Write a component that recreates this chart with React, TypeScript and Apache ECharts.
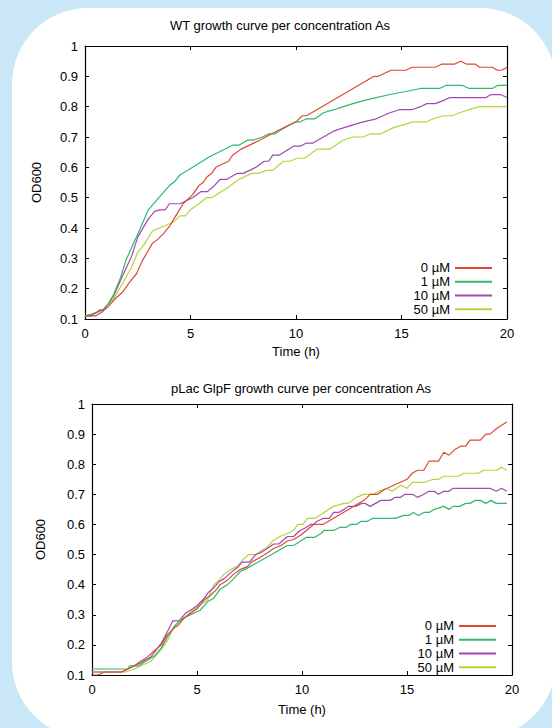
import React, { useEffect, useRef } from "react";
import * as echarts from "echarts";

const FONT = '"Liberation Sans", Arial, Helvetica, sans-serif';

const TITLES = [
  "WT growth curve per concentration As",
  "pLac GlpF growth curve per concentration As",
];
const X_NAME = "Time (h)";
const Y_NAME = "OD600";
const SERIES_NAMES = ["0 µM", "1 µM", "10 µM", "50 µM"];
const COLORS = ["#dd4a30", "#2cb96c", "#a248b2", "#b5d33a"];

// WT
const wt0 = [[0,0.11],[0.3,0.11],[0.5,0.12],[0.7,0.13],[0.9,0.13],[1.1,0.14],[1.4,0.165],[1.8,0.19],[2.1,0.22],[2.45,0.25],[2.7,0.29],[2.95,0.32],[3.2,0.35],[3.4,0.36],[3.7,0.38],[4.0,0.405],[4.3,0.44],[4.65,0.48],[5.1,0.51],[5.4,0.54],[5.6,0.55],[5.8,0.57],[6.0,0.58],[6.2,0.6],[6.5,0.61],[6.8,0.62],[7.0,0.64],[7.4,0.66],[8.3,0.69],[9.1,0.72],[10.0,0.75],[10.3,0.77],[10.5,0.77],[13.7,0.9],[13.9,0.9],[14.2,0.91],[14.5,0.92],[15.2,0.92],[15.5,0.93],[16.6,0.93],[16.9,0.94],[17.5,0.94],[17.8,0.95],[18.1,0.94],[18.5,0.94],[18.7,0.93],[19.3,0.93],[19.55,0.92],[19.75,0.92],[20,0.93]];
const wt1 = [[0,0.11],[0.5,0.12],[0.85,0.13],[1.1,0.15],[1.35,0.18],[1.65,0.23],[1.95,0.295],[2.3,0.35],[2.6,0.395],[3.0,0.46],[3.5,0.5],[4.0,0.54],[4.25,0.553],[4.5,0.575],[5.1,0.6],[5.9,0.635],[7.0,0.673],[7.3,0.673],[7.7,0.69],[8.0,0.69],[8.4,0.7],[8.7,0.71],[9.0,0.71],[9.2,0.72],[9.7,0.74],[10.0,0.75],[10.2,0.75],[10.5,0.76],[10.9,0.76],[11.3,0.78],[11.8,0.79],[12.25,0.8],[12.7,0.81],[13.2,0.82],[13.8,0.83],[14.45,0.84],[15.2,0.85],[15.9,0.86],[16.8,0.86],[17.1,0.87],[17.9,0.87],[18.2,0.86],[19.3,0.86],[19.55,0.87],[20,0.87]];
const wt10 = [[0,0.11],[0.5,0.11],[0.85,0.125],[1.1,0.15],[1.35,0.175],[1.8,0.245],[2.2,0.305],[2.5,0.37],[3.0,0.43],[3.3,0.455],[3.55,0.46],[3.8,0.46],[4.0,0.48],[4.5,0.48],[4.8,0.49],[5.1,0.5],[5.5,0.52],[5.8,0.52],[6.06,0.535],[6.4,0.56],[6.7,0.56],[7.2,0.58],[7.5,0.58],[8.1,0.6],[8.5,0.62],[8.7,0.62],[8.9,0.64],[9.2,0.64],[9.9,0.67],[10.2,0.67],[10.5,0.68],[10.8,0.68],[11.3,0.7],[11.8,0.72],[12.25,0.73],[12.7,0.74],[13.2,0.75],[13.8,0.76],[14.45,0.78],[14.9,0.79],[15.5,0.79],[15.9,0.8],[16.2,0.81],[16.6,0.81],[16.97,0.82],[17.3,0.83],[19.0,0.83],[19.25,0.84],[19.7,0.84],[20,0.83]];
const wt50 = [[0,0.11],[0.5,0.12],[0.85,0.13],[1.35,0.165],[1.8,0.22],[2.2,0.27],[2.5,0.32],[2.8,0.345],[3.2,0.39],[3.7,0.405],[4.2,0.42],[4.5,0.44],[4.75,0.44],[5.0,0.46],[5.4,0.48],[5.75,0.5],[6.0,0.5],[6.7,0.53],[7.3,0.56],[7.9,0.58],[8.2,0.58],[8.6,0.59],[8.9,0.59],[9.4,0.62],[9.7,0.62],[10.05,0.63],[10.4,0.63],[11.0,0.66],[11.6,0.66],[12.25,0.69],[12.7,0.7],[13.2,0.7],[13.5,0.71],[14.0,0.71],[14.6,0.73],[15.08,0.74],[15.55,0.75],[16.2,0.75],[16.5,0.76],[16.97,0.77],[17.4,0.77],[17.75,0.78],[18.2,0.79],[18.7,0.8],[20,0.8]];

// pLac GlpF
const gl0 = [[0,0.1],[0.3,0.1],[0.6,0.11],[1.4,0.11],[1.7,0.12],[2.0,0.13],[2.3,0.145],[2.65,0.16],[2.95,0.18],[3.3,0.2],[3.6,0.235],[3.9,0.255],[4.1,0.265],[4.4,0.29],[4.7,0.305],[5.0,0.32],[5.35,0.35],[5.65,0.365],[5.95,0.385],[6.1,0.4],[6.45,0.415],[6.75,0.435],[7.05,0.45],[7.4,0.46],[7.6,0.475],[8.0,0.49],[8.35,0.505],[8.65,0.52],[9.0,0.53],[9.3,0.545],[9.6,0.55],[9.95,0.565],[10.55,0.6],[11.0,0.6],[12.95,0.68],[13.25,0.7],[13.6,0.7],[13.9,0.715],[15.0,0.75],[15.25,0.77],[15.5,0.78],[15.8,0.78],[16.05,0.81],[16.5,0.81],[16.75,0.84],[17.0,0.83],[17.3,0.85],[17.55,0.86],[17.8,0.86],[18.0,0.88],[18.5,0.88],[18.75,0.9],[18.95,0.9],[19.3,0.92],[19.75,0.94]];
const gl1 = [[0,0.12],[1.7,0.12],[1.8,0.13],[2.2,0.13],[2.6,0.147],[3.0,0.165],[3.3,0.19],[3.6,0.227],[3.9,0.26],[4.2,0.283],[4.55,0.295],[4.85,0.305],[5.15,0.315],[5.5,0.343],[5.8,0.355],[6.1,0.385],[6.45,0.4],[6.75,0.42],[7.05,0.443],[7.4,0.455],[8.3,0.49],[9.3,0.53],[9.6,0.53],[9.9,0.543],[10.2,0.557],[10.6,0.557],[10.9,0.57],[11.05,0.58],[11.5,0.58],[11.8,0.59],[12.1,0.59],[12.3,0.6],[12.6,0.6],[12.8,0.61],[13.1,0.61],[13.35,0.62],[14.45,0.62],[14.85,0.63],[15.1,0.63],[15.3,0.64],[15.55,0.63],[15.8,0.64],[16.05,0.64],[16.3,0.65],[16.75,0.66],[17.0,0.65],[17.2,0.66],[17.5,0.66],[17.8,0.67],[18.0,0.67],[18.25,0.68],[18.5,0.68],[18.75,0.67],[19.0,0.68],[19.25,0.67],[19.75,0.67]];
const gl10 = [[0,0.11],[1.4,0.11],[1.7,0.12],[2.0,0.13],[2.3,0.14],[2.8,0.16],[3.3,0.205],[3.6,0.245],[3.85,0.28],[4.15,0.28],[4.45,0.305],[4.8,0.32],[5.0,0.33],[5.35,0.355],[5.55,0.375],[5.8,0.39],[6.05,0.41],[6.3,0.42],[6.6,0.44],[6.9,0.455],[7.15,0.475],[7.5,0.475],[7.8,0.5],[8.0,0.505],[8.35,0.52],[8.65,0.535],[8.9,0.535],[9.3,0.56],[9.6,0.56],[9.9,0.58],[10.2,0.59],[10.4,0.6],[10.55,0.6],[10.7,0.61],[11.0,0.62],[11.3,0.62],[11.5,0.64],[11.75,0.64],[12.0,0.65],[12.2,0.66],[12.55,0.66],[12.85,0.67],[13.0,0.67],[13.25,0.66],[13.75,0.68],[14.2,0.68],[14.45,0.69],[14.7,0.69],[14.9,0.7],[15.25,0.7],[15.5,0.69],[15.8,0.7],[16.05,0.71],[16.3,0.71],[16.5,0.7],[16.75,0.71],[17.0,0.71],[17.2,0.72],[18.95,0.72],[19.25,0.71],[19.5,0.72],[19.75,0.71]];
const gl50 = [[0,0.11],[1.6,0.11],[2.0,0.12],[2.3,0.13],[2.8,0.145],[3.3,0.185],[3.6,0.215],[3.9,0.26],[4.4,0.29],[4.8,0.315],[5.2,0.335],[5.5,0.35],[5.8,0.4],[6.05,0.415],[6.3,0.435],[6.6,0.45],[6.9,0.46],[7.15,0.48],[7.45,0.5],[7.8,0.5],[8.0,0.51],[8.35,0.525],[8.6,0.545],[8.95,0.56],[9.3,0.57],[9.6,0.58],[9.8,0.6],[10.05,0.6],[10.25,0.62],[10.6,0.62],[11.05,0.64],[11.5,0.66],[12.0,0.67],[12.2,0.67],[12.6,0.69],[12.95,0.7],[13.4,0.7],[13.65,0.71],[14.05,0.72],[14.3,0.71],[14.7,0.73],[15.0,0.72],[15.25,0.74],[15.85,0.74],[16.25,0.75],[16.5,0.75],[16.75,0.76],[17.45,0.76],[17.7,0.77],[18.4,0.77],[18.65,0.78],[19.3,0.78],[19.5,0.79],[19.75,0.78]];

const WT_SERIES = [wt0, wt1, wt10, wt50];
const GL_SERIES = [gl0, gl1, gl10, gl50];

const X_MIN = 0, X_MAX = 20, X_STEP = 5;
const Y_MIN = 0.1, Y_MAX = 1, Y_STEP = 0.1;

function makeAxes(gridIndex: number, yNameGap: number, xNameGap: number) {
  const tick = { show: true, inside: true, length: 4, lineStyle: { color: "#000", width: 1 } };
  const line = { show: true, onZero: false, lineStyle: { color: "#000", width: 1.2 } };
  const label = { show: true, color: "#000", fontSize: 13, fontFamily: FONT };
  const xs = [
    {
      type: "value", gridIndex, min: X_MIN, max: X_MAX, interval: X_STEP, position: "bottom",
      name: X_NAME, nameLocation: "middle", nameGap: xNameGap,
      nameTextStyle: { color: "#000", fontSize: 13, fontFamily: FONT },
      axisLine: line, axisTick: tick, axisLabel: { ...label, margin: 8 }, splitLine: { show: false },
    },
    {
      type: "value", gridIndex, min: X_MIN, max: X_MAX, interval: X_STEP, position: "top",
      axisLine: line, axisTick: tick, axisLabel: { show: false }, splitLine: { show: false },
    },
  ];
  const ys = [
    {
      type: "value", gridIndex, min: Y_MIN, max: Y_MAX, interval: Y_STEP, position: "left",
      name: Y_NAME, nameLocation: "middle", nameGap: yNameGap, nameRotate: 90,
      nameTextStyle: { color: "#000", fontSize: 13, fontFamily: FONT },
      axisLine: line, axisTick: tick, axisLabel: { ...label, margin: 7 }, splitLine: { show: false },
    },
    {
      type: "value", gridIndex, min: Y_MIN, max: Y_MAX, interval: Y_STEP, position: "right",
      axisLine: line, axisTick: tick, axisLabel: { show: false }, splitLine: { show: false },
    },
  ];
  return { xs, ys };
}

export default function App() {
  const ref = useRef<HTMLDivElement>(null);
  useEffect(() => {
    if (!ref.current) return;
    const chart = echarts.init(ref.current, null, { renderer: "svg" });
    const a0 = makeAxes(0, 42, 26);
    const a1 = makeAxes(1, 45, 28);
    const series: any[] = [];
    [WT_SERIES, GL_SERIES].forEach((group, gi) => {
      group.forEach((data, i) => {
        series.push({
          type: "line",
          name: SERIES_NAMES[i],
          xAxisIndex: gi * 2,
          yAxisIndex: gi * 2,
          data,
          symbol: "none",
          showSymbol: false,
          color: COLORS[i],
          lineStyle: { width: 1.2, color: COLORS[i] },
          z: 10 - i,
        });
      });
    });
    const legendBase = {
      orient: "vertical",
      align: "right",
      selectedMode: false,
      padding: 0,
      itemGap: 0,
      itemWidth: 37,
      itemHeight: 2,
      icon: "rect",
      data: SERIES_NAMES,
      textStyle: { color: "#000", fontSize: 13, fontFamily: FONT, lineHeight: 13.8 },
    };
    chart.setOption({
      animation: false,
      backgroundColor: "transparent",
      grid: [
        { left: 85, top: 46, width: 422, height: 273 },
        { left: 92, top: 404, width: 420, height: 271 },
      ],
      xAxis: [...a0.xs, ...a1.xs],
      yAxis: [...a0.ys, ...a1.ys],
      legend: [
        { ...legendBase, right: 60, top: 261 },
        { ...legendBase, right: 56, top: 619 },
      ],
      graphic: [
        {
          type: "text", x: 280, y: 25,
          style: { text: TITLES[0], fill: "#000", fontSize: 13, fontFamily: FONT, align: "center", verticalAlign: "middle" },
        },
        {
          type: "text", x: 301, y: 388,
          style: { text: TITLES[1], fill: "#000", fontSize: 13, fontFamily: FONT, align: "center", verticalAlign: "middle" },
        },
      ],
      series,
    });
    return () => chart.dispose();
  }, []);
  return (
    <div style={{ position: "fixed", left: 0, top: 0, width: 552, height: 728, overflow: "hidden", background: "#c9e7f6" }}>
      <div style={{ position: "absolute", left: 12, top: 8, width: 544, height: 730, borderRadius: 76, background: "#ffffff" }} />
      <div ref={ref} style={{ position: "absolute", left: 0, top: 0, width: 552, height: 728 }} />
    </div>
  );
}
